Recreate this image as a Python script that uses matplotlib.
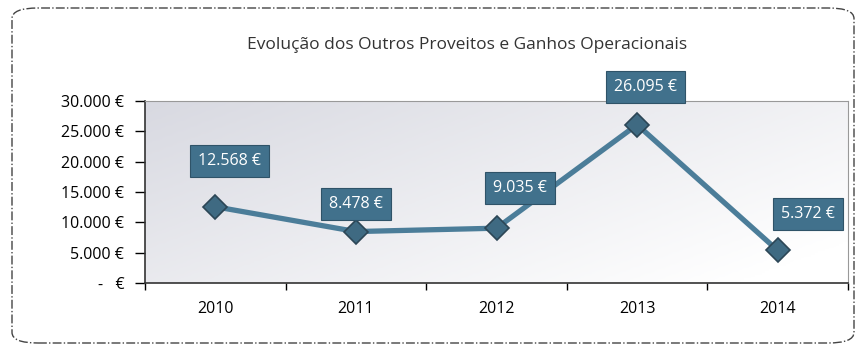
import numpy as np
import matplotlib.pyplot as plt
from matplotlib.patches import FancyBboxPatch

years = ['2010', '2011', '2012', '2013', '2014']
values = [12568, 8478, 9035, 26095, 5372]
# label offsets (points) for the value boxes
label_dx = [10, 0, 17, 6, 22]
label_dy = [33, 20, 29, 27, 26]


def euro(v, pos=None):
    if v == 0:
        return '-   €'
    return '{:,.0f} €'.format(v).replace(',', '.')


plt.rcParams['font.family'] = ['Open Sans', 'DejaVu Sans']
fig = plt.figure(figsize=(8.64, 3.53), dpi=100)
ax = fig.add_axes([145 / 864, 1 - 283 / 353, 703 / 864, 182 / 353])

# plot area gradient: grey at top-left fading to white
gx, gy = np.meshgrid(np.linspace(0, 1, 200), np.linspace(0, 1, 100))
grad = np.clip(0.65 * gx + 0.45 * gy, 0, 1)
ax.imshow(grad, cmap=plt.cm.colors.LinearSegmentedColormap.from_list('bg', ['#d8d9e1', '#ffffff']),
          extent=[-0.5, 4.5, 0, 30000], aspect='auto', origin='upper', zorder=0)

x = np.arange(len(years))
ax.plot(x, values, color='#4b7d99', lw=3.8, zorder=2, solid_capstyle='round')
ax.plot(x, values, linestyle='none', marker='D', markersize=12,
        markerfacecolor='#3f6a82', markeredgecolor='#2c4656', markeredgewidth=1.2, zorder=3)

for i, v in enumerate(values):
    ax.annotate(euro(v), (x[i], v), xytext=(label_dx[i], label_dy[i]), textcoords='offset points',
                ha='center', va='center', color='white', fontsize=11.5, zorder=4,
                bbox=dict(boxstyle='square,pad=0.5', fc='#41718c', ec='#2f5368', lw=0.8))

ax.set_xlim(-0.5, 4.5)
ax.set_ylim(0, 30000)
ax.set_yticks(range(0, 30001, 5000))
ax.yaxis.set_major_formatter(plt.FuncFormatter(euro))
ax.set_xticks(x)
ax.set_xticklabels(years)
ax.set_xticks(np.arange(-0.5, 4.6, 1), minor=True)
ax.tick_params(axis='x', which='major', length=0, pad=13, labelsize=11.5)
ax.tick_params(axis='x', which='minor', length=5, width=1, direction='out')
ax.tick_params(axis='y', length=7, width=1, labelsize=11.5, pad=8)
for s in ['left', 'bottom']:
    ax.spines[s].set_color('#333333')
    ax.spines[s].set_linewidth(1.2)
for s in ['top', 'right']:
    ax.spines[s].set_color('#999999')
    ax.spines[s].set_linewidth(0.8)

fig.text(467 / 864, 1 - 45 / 353, 'Evolução dos Outros Proveitos e Ganhos Operacionais',
         ha='center', va='center', fontsize=12.5, color='#333333')

# dash-dot outer frame
frame = FancyBboxPatch((12 / 864, 10 / 353), 842 / 864, 335 / 353,
                       boxstyle='round,pad=0,rounding_size=0.03', transform=fig.transFigure,
                       fill=False, ec='#444444', lw=1.0, linestyle='-.')
fig.patches.append(frame)

fig.savefig('out.png', dpi=100)
